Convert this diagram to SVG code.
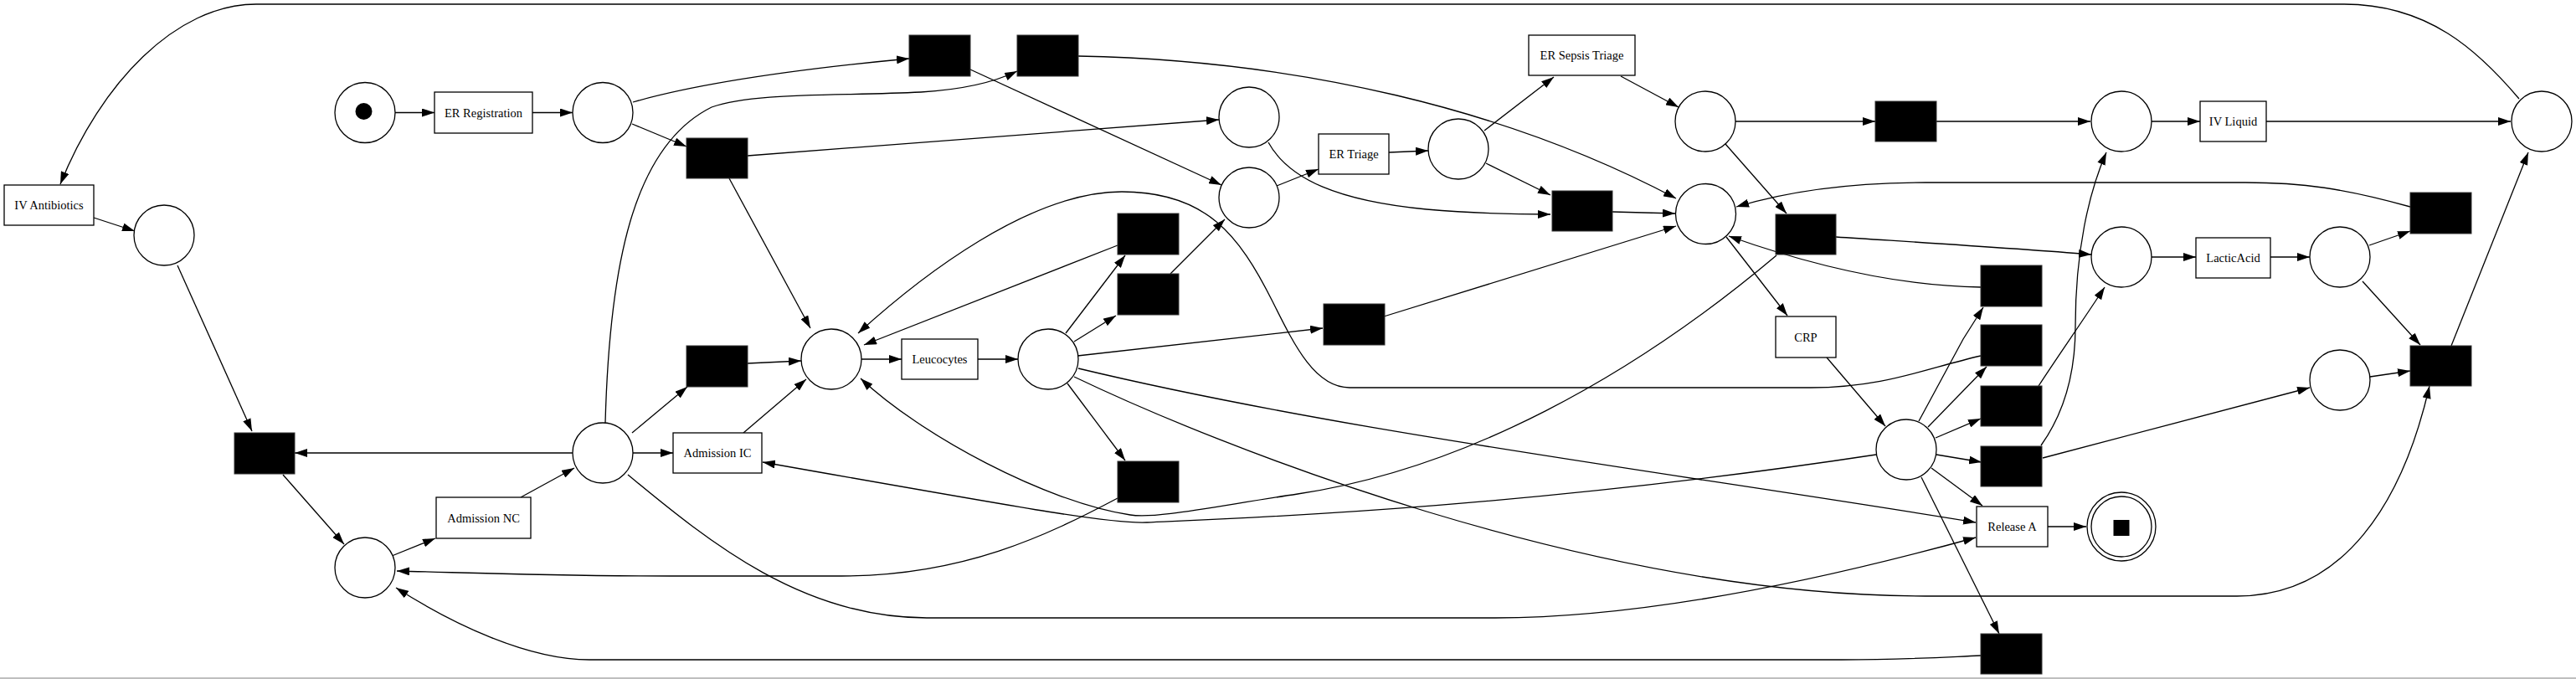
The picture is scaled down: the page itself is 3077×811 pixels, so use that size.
<svg xmlns="http://www.w3.org/2000/svg" width="3077" height="811" viewBox="0 0 3077 811">
<style>
.pl{fill:#fff;stroke:#000;stroke-width:1.3}
.tr{fill:#fff;stroke:#000;stroke-width:1.3}
.bk{fill:#000;stroke:#333;stroke-width:1}
.lb{font-family:"Liberation Serif","Times New Roman",serif;font-size:14.5px;text-anchor:middle;fill:#000}
.e{fill:none;stroke:#000;stroke-width:1.3;marker-end:url(#arr)}
</style>
<defs>
<marker id="arr" markerWidth="15" markerHeight="10" refX="15" refY="5" orient="auto" markerUnits="userSpaceOnUse"><path d="M0,0 L15,5 L0,10 z" fill="#000"/></marker>
</defs>
<rect x="0" y="0" width="3077" height="811" fill="#fff"/>
<line x1="0" y1="810" x2="3077" y2="810" stroke="#aaa" stroke-width="1.5"/>

<g id="connectors">
<path class="e" d="M472,134.5 L519,134.5"/>
<path class="e" d="M636,134.5 L684,134.5"/>
<path class="e" d="M756,122 C850,95 980,80 1086,70"/>
<path class="e" d="M755,148 L820,175"/>
<path class="e" d="M723,505 C728,320 755,175 850,128 C900,110 1000,115 1100,110 C1150,107 1190,97 1215,85"/>
<path class="e" d="M1159,83 L1459,221"/>
<path class="e" d="M1288,67 C1550,72 1800,130 2002,237"/>
<path class="e" d="M893,186 L1456,143"/>
<path class="e" d="M871,213 L968,392"/>
<path class="e" d="M1515,170 C1540,215 1600,240 1704,250 C1760,255 1810,256 1852,256"/>
<path class="e" d="M1525,222 L1575,202"/>
<path class="e" d="M1659,182 L1706,180"/>
<path class="e" d="M1773,156 L1856,92"/>
<path class="e" d="M1775,195 L1852,233"/>
<path class="e" d="M1936,91 L2005,128"/>
<path class="e" d="M1926,253 L2001,255"/>
<path class="e" d="M2073,145 L2240,145"/>
<path class="e" d="M2061,172 L2134,255"/>
<path class="e" d="M2313,145 L2497,145"/>
<path class="e" d="M2570,145 L2628,145"/>
<path class="e" d="M2707,145 L2999,145"/>
<path class="e" d="M3009,118 C2960,60 2900,5 2800,5 L306,5 C210,5 120,100 72,220"/>
<path class="e" d="M2193,283 C2300,290 2400,296 2498,304"/>
<path class="e" d="M2570,307 L2623,307"/>
<path class="e" d="M2712,307 L2759,307"/>
<path class="e" d="M2830,293 L2879,276"/>
<path class="e" d="M2822,336 L2891,412"/>
<path class="e" d="M2879,247 C2800,225 2750,218 2682,218 L2300,218 C2200,218 2130,230 2074,247"/>
<path class="e" d="M2928,413 L3020,182"/>
<path class="e" d="M2831,450 L2879,443"/>
<path class="e" d="M2440,547 L2759,463"/>
<path class="e" d="M2438,532 C2468,490 2479,440 2479,390 C2479,300 2495,230 2516,182"/>
<path class="e" d="M2435,461 C2455,430 2490,380 2514,343"/>
<path class="e" d="M2292,503 L2345,405 L2369,367"/>
<path class="e" d="M2366,343 C2300,342 2200,330 2065,282"/>
<path class="e" d="M2303,510 L2373,438"/>
<path class="e" d="M2312,523 L2366,500"/>
<path class="e" d="M2313,543 L2367,552"/>
<path class="e" d="M2307,559 L2368,604"/>
<path class="e" d="M2295,570 L2388,757"/>
<path class="e" d="M2182,427 L2252,509"/>
<path class="e" d="M2062,283 L2135,377"/>
<path class="e" d="M2446,629 L2492,629"/>
<path class="e" d="M1273,398 L1344,305"/>
<path class="e" d="M1283,408 L1333,377"/>
<path class="e" d="M1287,425 L1580,392"/>
<path class="e" d="M1275,458 L1344,550"/>
<path class="e" d="M1335,293 L1032,412"/>
<path class="e" d="M1398,327 L1463,262"/>
<path class="e" d="M1653,378 L2002,270"/>
<path class="e" d="M1029,429 L1077,429"/>
<path class="e" d="M1168,429 L1216,429"/>
<path class="e" d="M684,541 L352,541"/>
<path class="e" d="M755,517 L821,462"/>
<path class="e" d="M756,541 L804,541"/>
<path class="e" d="M888,517 L963,453"/>
<path class="e" d="M893,434 L957,431"/>
<path class="e" d="M468,664 L520,643"/>
<path class="e" d="M622,594 L686,559"/>
<path class="e" d="M338,567 L411,650"/>
<path class="e" d="M212,317 L301,515"/>
<path class="e" d="M112,260 L161,276"/>
<path class="e" d="M1335,595 C1250,640 1150,688 1005,688 L800,688 C650,688 560,684 474,682"/>
<path class="e" d="M2366,783 C2300,786 2270,788 2200,788 L704,788 C630,788 540,745 473,702"/>
<path class="e" d="M750,567 C850,650 960,738 1107,738 L1786,738 C1950,738 2150,700 2360,642"/>
<path class="e" d="M1283,450 C1450,530 1900,712 2300,712 L2672,712 C2800,712 2870,600 2902,461"/>
<path class="e" d="M1288,440 C1600,515 2000,565 2360,624"/>
<path class="e" d="M2241,543 C1800,610 1450,620 1370,624 C1330,626 1250,612 911,552"/>
<path class="e" d="M2122,305 C1950,450 1750,560 1550,590 C1450,605 1380,620 1350,615 C1250,600 1100,520 1028,452"/>
<path class="e" d="M2366,425 C2300,440 2250,463 2163,463 L1612,463 C1570,463 1545,410 1520,360 C1480,280 1440,229 1340,229 C1230,229 1100,330 1025,398"/>
</g>

<g id="p_start"><circle class="pl" cx="436" cy="134.5" r="36"/><circle cx="434.5" cy="133" r="10" fill="#000"/></g>
<g id="t_er_registration"><rect class="tr" x="519" y="110" width="117" height="49"/><text class="lb" x="577.5" y="139.5">ER Registration</text></g>
<g id="p1"><circle class="pl" cx="720" cy="134.5" r="36"/></g>
<g id="t_iv_antibiotics"><rect class="tr" x="5" y="221" width="107" height="48"/><text class="lb" x="58.5" y="250">IV Antibiotics</text></g>
<g id="p_ivab"><circle class="pl" cx="196" cy="281" r="36"/></g>
<g id="t1"><rect class="bk" x="280" y="517" width="72" height="49"/></g>
<g id="p_adm"><circle class="pl" cx="720" cy="541" r="36"/></g>
<g id="t_admission_nc"><rect class="tr" x="521" y="594" width="113" height="49"/><text class="lb" x="577.5" y="623.5">Admission NC</text></g>
<g id="p_bl"><circle class="pl" cx="436" cy="678" r="36"/></g>
<g id="t_admission_ic"><rect class="tr" x="804" y="517" width="106" height="48"/><text class="lb" x="857" y="546">Admission IC</text></g>
<g id="t2"><rect class="bk" x="1086" y="42" width="73" height="49"/></g>
<g id="t3"><rect class="bk" x="1215" y="42" width="73" height="49"/></g>
<g id="t4"><rect class="bk" x="820" y="165" width="73" height="48"/></g>
<g id="t7"><rect class="bk" x="820" y="413" width="73" height="49"/></g>
<g id="p_L"><circle class="pl" cx="993" cy="429" r="36"/></g>
<g id="t_leucocytes"><rect class="tr" x="1077" y="405" width="91" height="48"/><text class="lb" x="1122.5" y="434">Leucocytes</text></g>
<g id="p_M"><circle class="pl" cx="1252" cy="429" r="36"/></g>
<g id="p_x1"><circle class="pl" cx="1492" cy="140" r="36"/></g>
<g id="p_x2"><circle class="pl" cx="1492" cy="236" r="36"/></g>
<g id="t5"><rect class="bk" x="1335" y="255" width="73" height="49"/></g>
<g id="t6"><rect class="bk" x="1335" y="327" width="73" height="49"/></g>
<g id="t8"><rect class="bk" x="1335" y="551" width="73" height="49"/></g>
<g id="t_er_triage"><rect class="tr" x="1575" y="160" width="84" height="48"/><text class="lb" x="1617" y="189">ER Triage</text></g>
<g id="p_T"><circle class="pl" cx="1742" cy="178" r="36"/></g>
<g id="t_er_sepsis_triage"><rect class="tr" x="1826" y="42" width="127" height="48"/><text class="lb" x="1889.5" y="71">ER Sepsis Triage</text></g>
<g id="t10"><rect class="bk" x="1854" y="228" width="72" height="48"/></g>
<g id="t12"><rect class="bk" x="1581" y="363" width="73" height="49"/></g>
<g id="p_S"><circle class="pl" cx="2037" cy="145" r="36"/></g>
<g id="p_C"><circle class="pl" cx="2037.5" cy="255.5" r="36"/></g>
<g id="t9"><rect class="bk" x="2240" y="121" width="73" height="48"/></g>
<g id="t11"><rect class="bk" x="2121" y="256" width="72" height="48"/></g>
<g id="t_crp"><rect class="tr" x="2121" y="378" width="72" height="49"/><text class="lb" x="2157" y="407.5">CRP</text></g>
<g id="p_CRP"><circle class="pl" cx="2277" cy="537" r="36"/></g>
<g id="t14"><rect class="bk" x="2366" y="317" width="73" height="49"/></g>
<g id="t15"><rect class="bk" x="2366" y="388" width="73" height="49"/></g>
<g id="t16"><rect class="bk" x="2366" y="461" width="73" height="48"/></g>
<g id="t17"><rect class="bk" x="2366" y="533" width="73" height="48"/></g>
<g id="t19"><rect class="bk" x="2366" y="757" width="73" height="48"/></g>
<g id="t_release_a"><rect class="tr" x="2361" y="605" width="85" height="48"/><text class="lb" x="2403.5" y="634">Release A</text></g>
<g id="p_final"><circle class="pl" cx="2534" cy="629" r="41"/><circle class="pl" cx="2534" cy="629" r="36"/><rect x="2524.5" y="621" width="19" height="19" fill="#000"/></g>
<g id="p_IV"><circle class="pl" cx="2534" cy="145" r="36"/></g>
<g id="t_iv_liquid"><rect class="tr" x="2628" y="121" width="79" height="48"/><text class="lb" x="2667.5" y="150">IV Liquid</text></g>
<g id="p_end1"><circle class="pl" cx="3036" cy="145" r="36"/></g>
<g id="p_LA"><circle class="pl" cx="2534" cy="307" r="36"/></g>
<g id="t_lacticacid"><rect class="tr" x="2623" y="284" width="89" height="48"/><text class="lb" x="2667.5" y="313">LacticAcid</text></g>
<g id="p_LA2"><circle class="pl" cx="2795" cy="307" r="36"/></g>
<g id="t13"><rect class="bk" x="2879" y="230" width="73" height="49"/></g>
<g id="p_R"><circle class="pl" cx="2795" cy="454" r="36"/></g>
<g id="t18"><rect class="bk" x="2879" y="413" width="73" height="48"/></g>
</svg>
